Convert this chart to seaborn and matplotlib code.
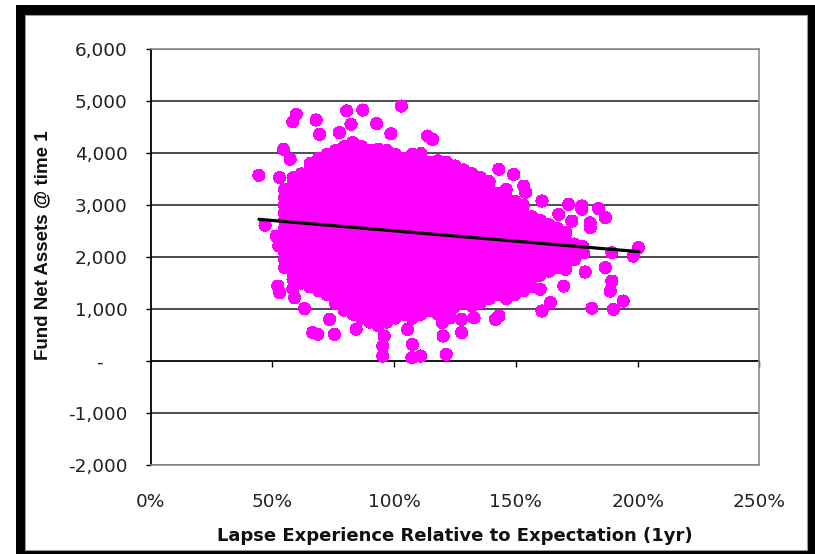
import matplotlib
matplotlib.use("Agg")
import matplotlib.pyplot as plt
import pandas as pd
import seaborn as sns
from matplotlib.patches import Rectangle

# ---- data -------------------------------------------------------------
# Dense body of the simulation cloud, listed column by column
# (lapse ratio of the column, fund net assets of the scenarios in it).
lapse_cols = [0.55, 0.585, 0.62, 0.655, 0.69, 0.725, 0.76, 0.795, 0.83, 0.865,
              0.90, 0.935, 0.97, 1.005, 1.04, 1.075, 1.11, 1.145, 1.18, 1.215,
              1.25, 1.285, 1.32, 1.355, 1.39, 1.425, 1.46, 1.495, 1.53, 1.565,
              1.60, 1.635, 1.67, 1.705, 1.74, 1.775]

assets_cols = [
    [1800, 1950, 2100, 2250, 2400, 2550, 2700, 2850, 3000, 3150, 3300],
    [1575, 1725, 1875, 2025, 2175, 2325, 2475, 2625, 2775, 2925, 3075, 3225, 3375, 3525],
    [1500, 1650, 1800, 1950, 2100, 2250, 2400, 2550, 2700, 2850, 3000, 3150, 3300, 3450, 3600],
    [1425, 1575, 1725, 1875, 2025, 2175, 2325, 2475, 2625, 2775, 2925, 3075, 3225, 3375,
     3525, 3675, 3800],
    [1350, 1500, 1650, 1800, 1950, 2100, 2250, 2400, 2550, 2700, 2850, 3000, 3150, 3300,
     3450, 3600, 3750, 3900],
    [1275, 1425, 1575, 1725, 1875, 2025, 2175, 2325, 2475, 2625, 2775, 2925, 3075, 3225,
     3375, 3525, 3675, 3825, 3975],
    [1100, 1200, 1350, 1500, 1650, 1800, 1950, 2100, 2250, 2400, 2550, 2700, 2850, 3000,
     3150, 3300, 3450, 3600, 3750, 3900, 4050],
    [975, 1125, 1275, 1425, 1575, 1725, 1875, 2025, 2175, 2325, 2475, 2625, 2775, 2925,
     3075, 3225, 3375, 3525, 3675, 3825, 3975, 4125],
    [900, 1050, 1200, 1350, 1500, 1650, 1800, 1950, 2100, 2250, 2400, 2550, 2700, 2850,
     3000, 3150, 3300, 3450, 3600, 3750, 3900, 4050, 4200],
    [825, 975, 1125, 1275, 1425, 1575, 1725, 1875, 2025, 2175, 2325, 2475, 2625, 2775,
     2925, 3075, 3225, 3375, 3525, 3675, 3825, 3975, 4125],
    [750, 900, 1050, 1200, 1350, 1500, 1650, 1800, 1950, 2100, 2250, 2400, 2550, 2700,
     2850, 3000, 3150, 3300, 3450, 3600, 3750, 3900, 4050],
    [675, 825, 975, 1125, 1275, 1425, 1575, 1725, 1875, 2025, 2175, 2325, 2475, 2625,
     2775, 2925, 3075, 3225, 3375, 3525, 3675, 3825, 3975, 4075],
    [750, 900, 1050, 1200, 1350, 1500, 1650, 1800, 1950, 2100, 2250, 2400, 2550, 2700,
     2850, 3000, 3150, 3300, 3450, 3600, 3750, 3900, 4050],
    [825, 975, 1125, 1275, 1425, 1575, 1725, 1875, 2025, 2175, 2325, 2475, 2625, 2775,
     2925, 3075, 3225, 3375, 3525, 3675, 3825, 3975],
    [900, 1050, 1200, 1350, 1500, 1650, 1800, 1950, 2100, 2250, 2400, 2550, 2700, 2850,
     3000, 3150, 3300, 3450, 3600, 3750, 3900],
    [825, 975, 1125, 1275, 1425, 1575, 1725, 1875, 2025, 2175, 2325, 2475, 2625, 2775,
     2925, 3075, 3225, 3375, 3525, 3675, 3825, 3975],
    [900, 1050, 1200, 1350, 1500, 1650, 1800, 1950, 2100, 2250, 2400, 2550, 2700, 2850,
     3000, 3150, 3300, 3450, 3600, 3750, 3900, 3990],
    [975, 1125, 1275, 1425, 1575, 1725, 1875, 2025, 2175, 2325, 2475, 2625, 2775, 2925,
     3075, 3225, 3375, 3525, 3675, 3825],
    [900, 1050, 1200, 1350, 1500, 1650, 1800, 1950, 2100, 2250, 2400, 2550, 2700, 2850,
     3000, 3150, 3300, 3450, 3600, 3750, 3850],
    [975, 1125, 1275, 1425, 1575, 1725, 1875, 2025, 2175, 2325, 2475, 2625, 2775, 2925,
     3075, 3225, 3375, 3525, 3675, 3825],
    [1050, 1200, 1350, 1500, 1650, 1800, 1950, 2100, 2250, 2400, 2550, 2700, 2850, 3000,
     3150, 3300, 3450, 3600, 3750],
    [1125, 1275, 1425, 1575, 1725, 1875, 2025, 2175, 2325, 2475, 2625, 2775, 2925, 3075,
     3225, 3375, 3525, 3675],
    [1050, 1200, 1350, 1500, 1650, 1800, 1950, 2100, 2250, 2400, 2550, 2700, 2850, 3000,
     3150, 3300, 3450, 3600],
    [1125, 1275, 1425, 1575, 1725, 1875, 2025, 2175, 2325, 2475, 2625, 2775, 2925, 3075,
     3225, 3375, 3525],
    [1200, 1350, 1500, 1650, 1800, 1950, 2100, 2250, 2400, 2550, 2700, 2850, 3000, 3150,
     3300, 3450],
    [1275, 1425, 1575, 1725, 1875, 2025, 2175, 2325, 2475, 2625, 2775, 2925, 3075, 3225],
    [1200, 1350, 1500, 1650, 1800, 1950, 2100, 2250, 2400, 2550, 2700, 2850, 3000, 3150, 3300],
    [1275, 1425, 1575, 1725, 1875, 2025, 2175, 2325, 2475, 2625, 2775, 2925, 3075],
    [1350, 1500, 1650, 1800, 1950, 2100, 2250, 2400, 2550, 2700, 2850, 3000],
    [1425, 1575, 1725, 1875, 2025, 2175, 2325, 2475, 2625, 2775],
    [1650, 1800, 1950, 2100, 2250, 2400, 2550, 2700],
    [1725, 1875, 2025, 2175, 2325, 2475, 2625],
    [1800, 1950, 2100, 2250, 2400, 2550],
    [1875, 2025, 2175, 2325, 2475],
    [1950, 2100, 2250],
    [2200],
]

# Scattered scenarios around the edge of the cloud.
lapse_sparse = [0.445, 0.47, 0.516, 0.527, 0.523, 0.53, 0.584, 0.591, 0.632, 0.666,
                0.687, 0.735, 0.755, 0.844, 0.953, 0.953, 0.959, 1.055, 1.073, 1.075,
                1.109, 1.198, 1.201, 1.214, 1.232, 1.277, 1.277, 1.328, 1.416, 1.43,
                0.53, 0.546, 0.573, 0.584, 0.598, 0.68, 0.694, 0.775, 0.805, 0.823,
                0.871, 0.928, 0.987, 1.03, 1.137, 1.158,
                1.43, 1.491, 1.532, 1.54, 1.607, 1.716, 1.771, 1.839, 1.867, 1.73,
                1.805, 1.676, 1.805, 1.771, 2.003, 1.982, 1.894, 1.778, 1.867, 1.785,
                1.703, 1.894, 1.887, 1.941, 1.90, 1.812, 1.696, 1.642, 1.607, 1.60,
                1.532]
assets_sparse = [3570, 2610, 2404, 2212, 1442, 1315, 1379, 1219, 1007, 546,
                 513, 802, 513, 610, 96, 288, 481, 610, 65, 321,
                 96, 738, 481, 129, 834, 802, 546, 834, 802, 865,
                 3526, 4071, 3879, 4603, 4744, 4635, 4360, 4392, 4810, 4551,
                 4827, 4565, 4372, 4904, 4327, 4263,
                 3686, 3590, 3365, 3240, 3077, 3013, 2981, 2930, 2757, 2692,
                 2660, 2821, 2565, 2917, 2180, 2019, 2084, 2084, 1796, 1712,
                 1763, 1538, 1346, 1154, 994, 1013, 1442, 1123, 962, 1379,
                 1442]

# Linear trend across the simulated lapse range.
trend_lapse = [0.445, 2.005]
trend_assets = [2725, 2103]

x_ticks = [0.0, 0.5, 1.0, 1.5, 2.0, 2.5]
x_tick_labels = ["0%", "50%", "100%", "150%", "200%", "250%"]
y_ticks = [-2000, -1000, 0, 1000, 2000, 3000, 4000, 5000, 6000]
y_tick_labels = ["-2,000", "-1,000", "-    ", "1,000", "2,000", "3,000",
                 "4,000", "5,000", "6,000"]

# ---- assemble ---------------------------------------------------------
rows = [(x, y) for x, ys in zip(lapse_cols, assets_cols) for y in ys]
rows += list(zip(lapse_sparse, assets_sparse))
df = pd.DataFrame(rows, columns=["lapse", "assets"])

sns.set_theme(style="white")
plt.rcParams["font.family"] = ["DejaVu Sans"]

fig = plt.figure(figsize=(8.15, 5.54), dpi=100)
fig.patch.set_facecolor("white")

# thick black frame around the chart area
fig.patches.append(Rectangle((0.01963, 0.0), 0.98037, 0.99097,
                             transform=fig.transFigure, facecolor="black",
                             edgecolor="none", zorder=-20))
fig.patches.append(Rectangle((0.03067, 0.00722), 0.95951, 0.96570,
                             transform=fig.transFigure, facecolor="white",
                             edgecolor="#9a9a9a", linewidth=0.8, zorder=-19))

ax = fig.add_axes([0.1847, 0.1606, 0.7472, 0.7509])
ax.set_facecolor("white")
ax.set_axisbelow(True)
ax.grid(axis="y", color="#1c1c1c", linewidth=1.1)
ax.grid(axis="x", visible=False)

sns.scatterplot(data=df, x="lapse", y="assets", color="#ff00ff", marker="o",
                s=76, linewidth=0, edgecolor="none", alpha=1.0,
                antialiased=False, ax=ax, zorder=3, legend=False)
sns.lineplot(x=trend_lapse, y=trend_assets, color="black", linewidth=2.3,
             ax=ax, zorder=4)

ax.set_xlim(0, 2.5)
ax.set_ylim(-2000, 6000)

ax.set_yticks(y_ticks, labels=y_tick_labels)
ax.set_xticks(x_ticks, labels=x_tick_labels)
ax.tick_params(axis="y", left=True, direction="out", length=3.6, width=1.0,
               color="black", pad=13, labelsize=13.3, labelcolor="#222222")
ax.tick_params(axis="x", bottom=False, length=0, pad=20, labelsize=13.3,
               labelcolor="#222222")

for side in ("top", "right", "bottom"):
    ax.spines[side].set_color("#8c8c8c")
    ax.spines[side].set_linewidth(1.2)
ax.spines["left"].set_color("black")
ax.spines["left"].set_linewidth(1.3)

# category axis crossing at zero, with its tick marks
zero_axis = ax.secondary_xaxis(0.25)
zero_axis.set_xticks(x_ticks[1:])
zero_axis.tick_params(axis="x", direction="out", length=4.5, width=1.0,
                      color="black", labelbottom=False, bottom=True)
zero_axis.spines["bottom"].set_color("black")
zero_axis.spines["bottom"].set_linewidth(1.3)

ax.set_xlabel("Lapse Experience Relative to Expectation (1yr)",
              family=["DejaVu Sans"], fontweight="bold", fontsize=13,
              color="#111111")
ax.set_ylabel("Fund Net Assets @ time 1", family=["Liberation Sans"],
              fontweight="bold", fontsize=13.5, color="#111111")
ax.xaxis.label.set_va("center")
ax.yaxis.label.set_va("center")
ax.xaxis.set_label_coords(0.5, -0.1707)
ax.yaxis.set_label_coords(-0.1773, 0.529)

fig.savefig("out.png", dpi=100)
